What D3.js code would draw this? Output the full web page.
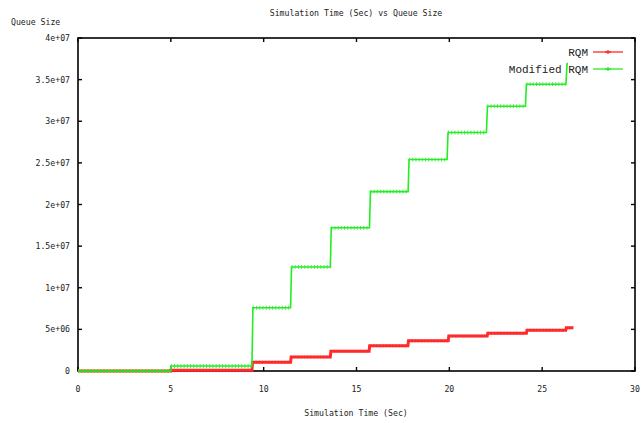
<!DOCTYPE html>
<html>
<head>
<meta charset="utf-8">
<script src="https://cdn.jsdelivr.net/npm/d3@7"></script>
<style>
  html, body { margin: 0; padding: 0; background: #fff; }
  svg { display: block; }
  .lbl { font-family: "DejaVu Sans Mono", monospace; font-size: 8.2px; fill: #222; }
  .leg { font-family: "Liberation Mono", monospace; font-size: 11px; fill: #222; }
</style>
</head>
<body>
<svg id="chart" width="641" height="423"></svg>
<script>
// Queue size over simulation time, recorded as piecewise-constant steps.
// Each step: start time (s), end time (s), queue size.
const rqmStart  = [0, 5, 9.40, 11.48, 13.62, 15.71, 17.80, 19.97, 22.07, 24.18, 26.30];
const rqmEnd    = [5, 9.37, 11.45, 13.59, 15.68, 17.77, 19.94, 22.04, 24.15, 26.27, 26.68];
const rqmValue  = [0, 0.08e6, 1.05e6, 1.68e6, 2.37e6, 3.04e6, 3.64e6, 4.2e6, 4.53e6, 4.89e6, 5.2e6];

const modStart  = [0, 5, 9.42, 11.50, 13.64, 15.75, 17.83, 19.93, 22.05, 24.15, 26.34];
const modEnd    = [5, 9.37, 11.45, 13.59, 15.70, 17.78, 19.88, 22.00, 24.10, 26.28, 26.37];
const modValue  = [0, 0.6e6, 7.6e6, 12.5e6, 17.2e6, 21.55e6, 25.4e6, 28.65e6, 31.8e6, 34.45e6, 36.9e6];

const xTicks = [0, 5, 10, 15, 20, 25, 30];
const yTicks = [0, 5e6, 1e7, 1.5e7, 2e7, 2.5e7, 3e7, 3.5e7, 4e7];
const yTickLabels = ["0", "5e+06", "1e+07", "1.5e+07", "2e+07", "2.5e+07", "3e+07", "3.5e+07", "4e+07"];

const seriesNames = ["RQM", "Modified RQM"];
const seriesColors = ["#ff2a2a", "#22ee22"];

const svg = d3.select("#chart");
const x = d3.scaleLinear().domain([0, 30]).range([78, 635]);
const y = d3.scaleLinear().domain([0, 4e7]).range([371, 38]);

function stepPoints(starts, ends, values) {
  const pts = [];
  starts.forEach((s, i) => {
    pts.push([s, values[i]]);
    pts.push([ends[i], values[i]]);
  });
  return pts;
}

const series = [
  { name: seriesNames[0], color: seriesColors[0], width: 3, mark: 0.6, markOpacity: 0.45,
    pts: stepPoints(rqmStart, rqmEnd, rqmValue), s: rqmStart, e: rqmEnd, v: rqmValue },
  { name: seriesNames[1], color: seriesColors[1], width: 1.6, mark: 2.2, markOpacity: 0.8,
    pts: stepPoints(modStart, modEnd, modValue), s: modStart, e: modEnd, v: modValue }
];

const line = d3.line().x(d => x(d[0])).y(d => y(d[1]));

// Frame
svg.append("rect")
  .attr("x", x(0)).attr("y", y(4e7))
  .attr("width", x(30) - x(0)).attr("height", y(0) - y(4e7))
  .attr("fill", "none").attr("stroke", "#000").attr("stroke-width", 1.6);

// Inward ticks on all four sides
const tk = 4;
xTicks.forEach(t => {
  svg.append("line").attr("x1", x(t)).attr("x2", x(t)).attr("y1", y(0)).attr("y2", y(0) - tk)
    .attr("stroke", "#000").attr("stroke-width", 1.4);
  svg.append("line").attr("x1", x(t)).attr("x2", x(t)).attr("y1", y(4e7)).attr("y2", y(4e7) + tk)
    .attr("stroke", "#000").attr("stroke-width", 1.4);
  svg.append("text").attr("class", "lbl").attr("x", x(t)).attr("y", 392)
    .attr("text-anchor", "middle").text(t);
});
yTicks.forEach((t, i) => {
  svg.append("line").attr("x1", x(0)).attr("x2", x(0) + tk).attr("y1", y(t)).attr("y2", y(t))
    .attr("stroke", "#000").attr("stroke-width", 1.4);
  svg.append("line").attr("x1", x(30)).attr("x2", x(30) - tk).attr("y1", y(t)).attr("y2", y(t))
    .attr("stroke", "#000").attr("stroke-width", 1.4);
  svg.append("text").attr("class", "lbl").attr("x", 70).attr("y", y(t) + 3)
    .attr("text-anchor", "end").text(yTickLabels[i]);
});

// Series: RQM first, then Modified RQM on top
series.forEach(sr => {
  svg.append("path").attr("d", line(sr.pts))
    .attr("fill", "none").attr("stroke", sr.color).attr("stroke-width", sr.width)
    .attr("stroke-linejoin", "miter");
  // dense point markers along each step
  sr.s.forEach((s, i) => {
    svg.append("line")
      .attr("x1", x(s)).attr("x2", x(sr.e[i]))
      .attr("y1", y(sr.v[i])).attr("y2", y(sr.v[i]))
      .attr("stroke", sr.color).attr("stroke-width", sr.width + sr.mark)
      .attr("stroke-dasharray", "1 2.2").attr("opacity", sr.markOpacity);
  });
});

// Titles
svg.append("text").attr("class", "lbl").attr("x", 356).attr("y", 16)
  .attr("text-anchor", "middle").text("Simulation Time (Sec) vs Queue Size");
svg.append("text").attr("class", "lbl").attr("x", 11).attr("y", 25)
  .text("Queue Size");
svg.append("text").attr("class", "lbl").attr("x", 356).attr("y", 416)
  .attr("text-anchor", "middle").text("Simulation Time (Sec)");

// Legend
series.forEach((sr, i) => {
  const ly = 52 + i * 17;
  svg.append("text").attr("class", "leg").attr("x", 588).attr("y", ly + 4)
    .attr("text-anchor", "end").text(sr.name);
  svg.append("line").attr("x1", 593).attr("x2", 623).attr("y1", ly).attr("y2", ly)
    .attr("stroke", sr.color).attr("stroke-width", 1.3);
  svg.append("path").attr("d", `M605,${ly} h6 M608,${ly - 2} v4`)
    .attr("stroke", sr.color).attr("stroke-width", 1.3);
});
</script>
</body>
</html>
